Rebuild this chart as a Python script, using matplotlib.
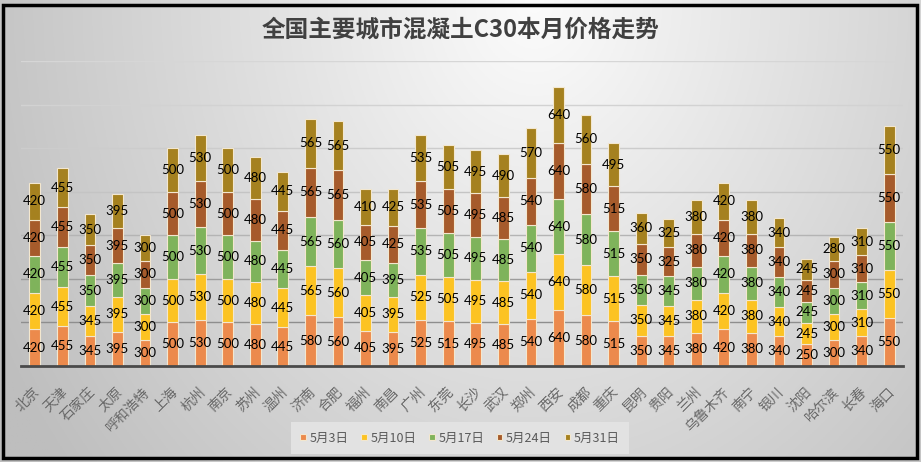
import numpy as np
import matplotlib
matplotlib.use("Agg")
import matplotlib.pyplot as plt
from matplotlib.patches import Rectangle
from matplotlib.transforms import ScaledTranslation

plt.rcParams['font.family'] = ['Noto Sans CJK SC', 'DejaVu Sans']

cities = ["北京", "天津", "石家庄", "太原", "呼和浩特", "上海", "杭州", "南京", "苏州", "温州",
          "济南", "合肥", "福州", "南昌", "广州", "东莞", "长沙", "武汉", "郑州", "西安",
          "成都", "重庆", "昆明", "贵阳", "兰州", "乌鲁木齐", "南宁", "银川", "沈阳", "哈尔滨",
          "长春", "海口"]
series_names = ["5月3日", "5月10日", "5月17日", "5月24日", "5月31日"]
may03 = [420, 455, 345, 395, 300, 500, 530, 500, 480, 445, 580, 560, 405, 395, 525, 515, 495, 485, 540, 640,
         580, 515, 350, 345, 380, 420, 380, 340, 250, 300, 340, 550]
may10 = [420, 455, 345, 395, 300, 500, 530, 500, 480, 445, 565, 560, 405, 395, 525, 505, 495, 485, 540, 640,
         580, 515, 350, 345, 380, 420, 380, 340, 245, 300, 310, 550]
may17 = [420, 455, 350, 395, 300, 500, 530, 500, 480, 445, 565, 560, 405, 395, 535, 505, 495, 485, 540, 640,
         580, 515, 350, 345, 380, 420, 380, 340, 245, 300, 310, 550]
may24 = [420, 455, 350, 395, 300, 500, 530, 500, 480, 445, 565, 565, 405, 425, 535, 505, 495, 485, 540, 640,
         580, 515, 350, 325, 380, 420, 380, 340, 245, 300, 310, 550]
may31 = [420, 455, 350, 395, 300, 500, 530, 500, 480, 445, 565, 565, 410, 425, 535, 505, 495, 490, 570, 640,
         560, 495, 360, 325, 380, 420, 380, 340, 245, 280, 310, 550]
series = [may03, may10, may17, may24, may31]
colors = ["#EC8A4C", "#FCC322", "#7FB35B", "#A65B2B", "#A5811F"]
y_ticks = [500, 1000, 1500, 2000, 2500, 3000, 3500]
grid_colors = ["#8E8E8E", "#9C9C9C", "#B4B4B4", "#C4C4C4", "#CCCCCC", "#D2D2D2", "#D6D6D6"]

W, H = 921, 462
fig = plt.figure(figsize=(W / 100, H / 100), dpi=100, facecolor="white")

# background gradient
bg = fig.add_axes([0, 0, 1, 1], zorder=-10)
yy, xx = np.mgrid[0:1:200j, 0:1:400j]
d = np.sqrt(((xx - 0.58) / 0.62) ** 2 + ((yy - 0.0) / 1.5) ** 2)
val = np.clip(252 - 58 * d, 190, 252) / 255.0
img = np.dstack([val, val, val])
bg.imshow(img, aspect="auto", extent=[0, 1, 0, 1], origin="upper")
bg.set_xlim(0, 1)
bg.set_ylim(0, 1)
bg.axis("off")

ax = fig.add_axes([21 / W, 1 - 366 / H, (903 - 21) / W, (366 - 61) / H])
ax.set_facecolor("none")
x = np.arange(len(cities))
bottom = np.zeros(len(cities))
bw = 0.39
for gy, gc in zip(y_ticks, grid_colors):
    ax.axhline(gy, color=gc, linewidth=1.0, zorder=0)
for name, vals, c in zip(series_names, series, colors):
    vals = np.array(vals, dtype=float)
    ax.bar(x, vals, bw, bottom=bottom, color=c, edgecolor="#F3E7CF",
           linewidth=0.8, label=name, zorder=3)
    for xi, b, v in zip(x, bottom, vals):
        ax.text(xi, b + v / 2, f"{int(v)}", ha="center", va="center",
                fontsize=9.5, color="black", family=["Lato", "DejaVu Sans"], zorder=5)
    bottom += vals

ax.set_xlim(-0.5, len(cities) - 0.5)
ax.set_ylim(0, 3500)
ax.tick_params(axis="y", left=False, labelleft=False)
ax.tick_params(axis="x", bottom=False, pad=3)
for s in ["top", "right", "left"]:
    ax.spines[s].set_visible(False)
ax.spines["bottom"].set_color("#4A4A4A")
ax.spines["bottom"].set_linewidth(2)
ax.spines["bottom"].set_zorder(6)
ax.set_xticks(x)
ax.set_xticklabels(cities, rotation=45, ha="right", va="top", rotation_mode="anchor",
                   fontsize=10, color="#686868")
for lbl in ax.get_xticklabels():
    lbl.set_transform(lbl.get_transform() + ScaledTranslation(-2 / 100, -10 / 100, fig.dpi_scale_trans))

fig.text(0.5, 1 - 30 / H, "全国主要城市混凝土C30本月价格走势", ha="center", va="center",
         fontsize=17, color="#404040", fontweight="bold")

leg = fig.legend(loc="center", bbox_to_anchor=(460 / W, 1 - 438 / H), ncol=5, frameon=True,
                 fontsize=9, handlelength=0.45, handleheight=0.45, handletextpad=0.3,
                 columnspacing=1.0, borderpad=0.45, labelcolor="#595959")
leg.get_frame().set_facecolor("#E2E2E2")
leg.get_frame().set_edgecolor("none")
leg.get_frame().set_alpha(1)
leg.get_frame().set_boxstyle("square")

# outer frame
fig.patches.append(Rectangle((2.5 / W, 1 - 458 / H), (917 - 2.5) / W, (458 - 4.5) / H,
                             transform=fig.transFigure, fill=False, edgecolor="black",
                             linewidth=2.5, zorder=20))

fig.savefig("out.png", dpi=100, facecolor="white")
